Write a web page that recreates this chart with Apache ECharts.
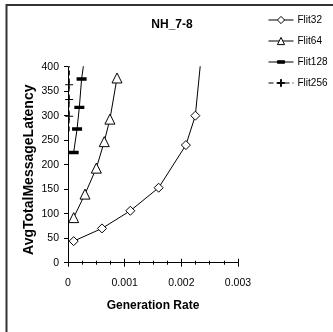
<!DOCTYPE html>
<html>
<head>
<meta charset="utf-8">
<script src="https://cdn.jsdelivr.net/npm/echarts@6/dist/echarts.min.js"></script>
<style>
html,body{margin:0;padding:0;background:#fff;}
#c{width:333px;height:332px;}
</style>
</head>
<body>
<div id="c"></div>
<script>
var seriesNames = ['Flit32', 'Flit64', 'Flit128', 'Flit256'];
var flit32 = [[0.0001, 44], [0.0006, 70], [0.0011, 106], [0.0016, 153], [0.00208, 240], [0.002247, 300], [0.0024, 480]];
var flit64 = [[0.0001, 92], [0.0003, 140], [0.0005, 193], [0.00064, 247], [0.00074, 293], [0.000865, 377]];
var flit128 = [[0.0001, 225], [0.00016, 273], [0.0002, 317], [0.00024, 375], [0.0003, 425]];
var flit256 = [[0.00002, 268], [0.00002, 299], [0.00002, 333], [0.00002, 363], [0.00003, 430]];
var xTicks = [0, 0.001, 0.002, 0.003];
var yTicks = [0, 50, 100, 150, 200, 250, 300, 350, 400];

var FONT = 'Liberation Sans, Arial, sans-serif';
var plusPath = 'path://M4.4,0h1.2v4.4h4.4v1.2h-4.4v4.4h-1.2v-4.4h-4.4v-1.2h4.4z';
// dash glyph inside a square bounding box (tiny corner specks keep the box square)
var dashPath = 'path://M0,3.3h10v3.4h-10zM0,0h0.001v0.001h-0.001zM9.999,9.999h0.001v0.001h-0.001z';

function mk(name, data, symbol, size, dashed, hideFirst) {
  var filled = symbol.indexOf('path') === 0;
  var d = data.map(function (p, i) {
    if (hideFirst && i === 0) return { value: p, symbol: 'none' };
    return p;
  });
  return {
    name: name, type: 'line', data: d, symbol: symbol, symbolSize: size, symbolKeepAspect: true,
    clip: true, animation: false,
    lineStyle: { color: '#000', width: 1, type: dashed ? [5, 3] : 'solid' },
    itemStyle: { color: filled ? '#000' : '#fff', borderColor: '#000', borderWidth: filled ? 0 : 1 },
    emphasis: { disabled: true }
  };
}

var chart = echarts.init(document.getElementById('c'), null, { renderer: 'canvas' });
chart.setOption({
  animation: false,
  backgroundColor: '#fff',
  textStyle: { fontFamily: FONT },
  title: {
    text: 'NH_7-8', left: 172, top: 19, textAlign: 'center', padding: 0,
    textStyle: { fontFamily: FONT, fontSize: 12, fontWeight: 'bold', color: '#000' }
  },
  legend: {
    orient: 'vertical', left: 268, top: 15, padding: 0, itemWidth: 25, itemHeight: 9, itemGap: 11,
    data: seriesNames, symbolKeepAspect: true,
    itemStyle: { borderWidth: 1 },
    lineStyle: { width: 1 },
    textStyle: { fontFamily: FONT, fontSize: 10, color: '#000', padding: [0, 0, 0, -1] }
  },
  grid: { left: 68, right: 95, top: 66.7, bottom: 69.3, containLabel: false },
  xAxis: [{
    type: 'value', min: xTicks[0], max: xTicks[xTicks.length - 1], interval: 0.001,
    name: 'Generation Rate', nameLocation: 'middle', nameGap: 37, nameMoveOverlap: false,
    nameTextStyle: { fontFamily: FONT, fontSize: 12, fontWeight: 'bold', color: '#000' },
    axisLine: { show: true, onZero: false, lineStyle: { color: '#000', width: 1 } },
    axisTick: { show: true, length: 4, lineStyle: { color: '#000' } },
    minorTick: { show: true, splitNumber: 4, length: 2, lineStyle: { color: '#000' } },
    axisLabel: { fontFamily: FONT, fontSize: 10.5, color: '#000', margin: 15 },
    splitLine: { show: false }
  }, {
    type: 'value', min: xTicks[0], max: xTicks[xTicks.length - 1], interval: 0.001, position: 'bottom',
    axisLine: { show: false },
    axisTick: { show: true, inside: true, length: 4, lineStyle: { color: '#000' } },
    minorTick: { show: true, splitNumber: 4, length: 2, lineStyle: { color: '#000' } },
    axisLabel: { show: false }, splitLine: { show: false }
  }],
  yAxis: {
    type: 'value', min: yTicks[0], max: yTicks[yTicks.length - 1], interval: 50,
    name: 'AvgTotalMessageLatency', nameLocation: 'middle', nameGap: 32, nameMoveOverlap: false,
    nameTextStyle: { fontFamily: FONT, fontSize: 14, fontWeight: 'bold', color: '#000', padding: [0, 10, 0, 0] },
    axisLine: { show: true, lineStyle: { color: '#000', width: 1 } },
    axisTick: { show: true, length: 4, lineStyle: { color: '#000' } },
    axisLabel: { fontFamily: FONT, fontSize: 10.5, color: '#000', margin: 9 },
    splitLine: { show: false }
  },
  series: [
    mk('Flit32', flit32, 'diamond', 9, false, false),
    mk('Flit64', flit64, 'triangle', 10, false, false),
    mk('Flit128', flit128, dashPath, 10, false, false),
    mk('Flit256', flit256, plusPath, 8, true, true)
  ],
  graphic: [
    { type: 'line', shape: { x1: 6.5, y1: 4, x2: 6.5, y2: 332 }, style: { stroke: '#333', lineWidth: 2 } },
    { type: 'line', shape: { x1: 6, y1: 5, x2: 333, y2: 5 }, style: { stroke: '#333', lineWidth: 2 } }
  ]
});
</script>
</body>
</html>
